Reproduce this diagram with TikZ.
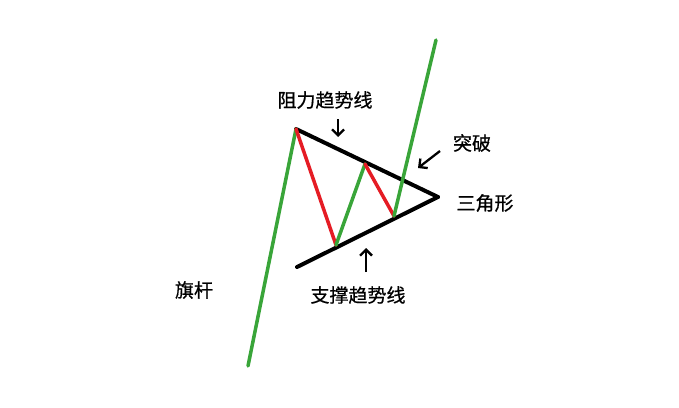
\documentclass[tikz,border=0pt]{standalone}
\usepackage{fontspec}
\newfontfamily\cjk[FakeBold=0.7]{Noto Sans CJK SC}
\usetikzlibrary{arrows.meta}
\definecolor{legup}{RGB}{57,165,57}
\definecolor{legdown}{RGB}{229,28,36}
\begin{document}
\begin{tikzpicture}[x=1pt,y=-1pt,
  trend/.style={line width=4pt,black,line cap=round},
  upleg/.style={line width=3.5pt,legup,line cap=round},
  downleg/.style={line width=3.5pt,legdown,line cap=round},
  pointer/.style={line width=2.3pt,-{Straight Barb[length=6pt,width=12pt]}},
  lbl/.style={font=\cjk\fontsize{19}{21}\selectfont,inner sep=0pt}]
\useasboundingbox (0,0) rectangle (679,407);
\coordinate (base) at (248,366);
\coordinate (A) at (296,129);
\coordinate (B) at (336,245);
\coordinate (C) at (365,164);
\coordinate (D) at (394,216);
\coordinate (E) at (436,40);
\coordinate (apex) at (438,197);
\coordinate (L) at (297,267);
% trend lines
\draw[trend] (A) -- (apex);
\draw[trend] (L) -- (apex);
% legs
\draw[upleg] (base) -- (A);
\draw[downleg] (A) -- (B);
\draw[upleg] (B) -- (C);
\draw[downleg] (C) -- (D);
\draw[upleg] (D) -- (E);
% labels
\node[lbl] (res) at (325,100) {阻力趋势线};
\node[lbl] (brk) at (472,143) {突破};
\node[lbl] (tri) at (485,203) {三角形};
\node[lbl] (sup) at (358,295) {支撑趋势线};
\node[lbl] (pole) at (194,290) {旗杆};
% pointers
\coordinate (r0) at (338,119);
\coordinate (r1) at (338,137);
\coordinate (b0) at (440,151);
\coordinate (b1) at (418,168);
\coordinate (s0) at (366,272);
\coordinate (s1) at (366,248);
\draw[pointer] (r0) -- (r1);
\draw[pointer] (b0) -- (b1);
\draw[pointer] (s0) -- (s1);
\end{tikzpicture}
\end{document}
